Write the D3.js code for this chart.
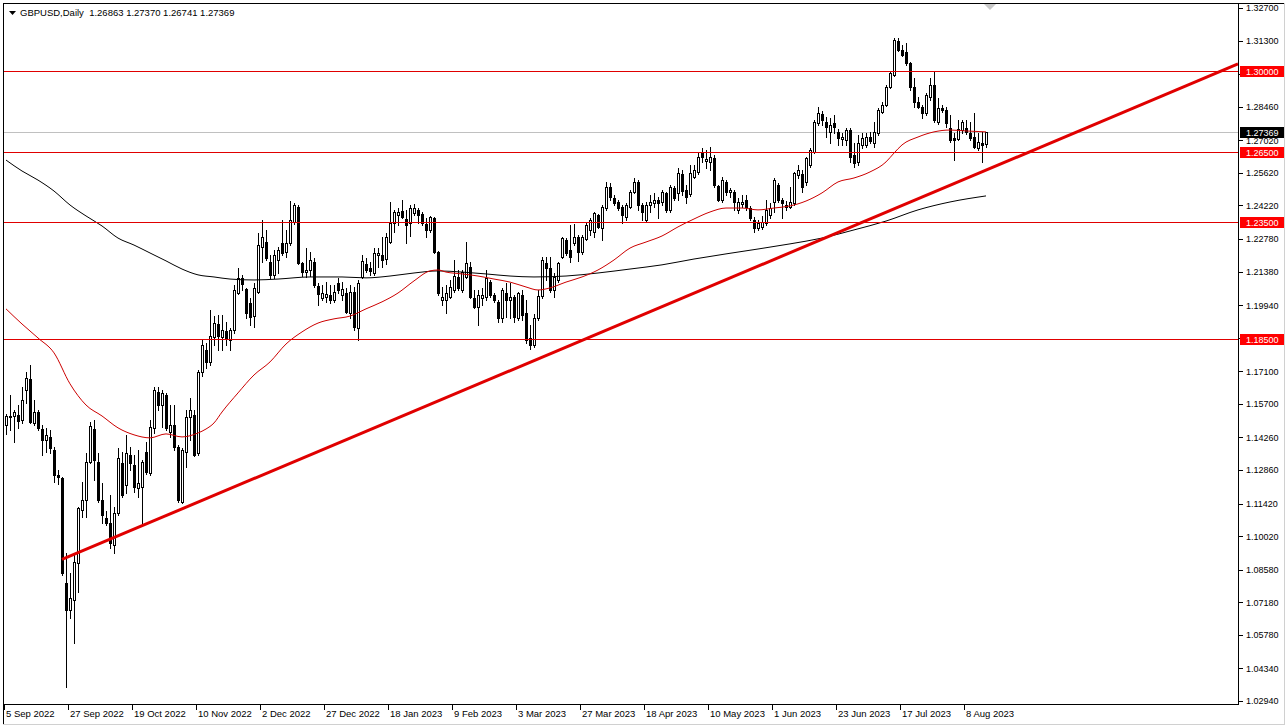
<!DOCTYPE html>
<html><head><meta charset="utf-8">
<script src="https://cdn.jsdelivr.net/npm/d3@7"></script>
<style>
body{margin:0;background:#fff}
svg{display:block}
text{font-family:"Liberation Sans",Arial,sans-serif;}
</style>
</head><body>
<svg id="c" width="1287" height="727"></svg>
<script>
// ---------------- DATA ----------------
const symbol = "GBPUSD,Daily";
const firstDay = "2022-09-05";
const closedDays = ["2022-12-26"];
const dateTickLabels = ["5 Sep 2022","27 Sep 2022","19 Oct 2022","10 Nov 2022","2 Dec 2022","27 Dec 2022","18 Jan 2023","9 Feb 2023","3 Mar 2023","27 Mar 2023","18 Apr 2023","10 May 2023","1 Jun 2023","23 Jun 2023","17 Jul 2023","8 Aug 2023"];
const priceTicks = [1.32700,1.31300,1.29880,1.28460,1.27020,1.25620,1.24220,1.22780,1.21380,1.19940,1.18540,1.17100,1.15700,1.14260,1.12860,1.11420,1.10020,1.08580,1.07180,1.05780,1.04340,1.02940];
const levels = [1.30000,1.26500,1.23500,1.18500];
const lastPrice = 1.27369;

const open = [
1.1479,1.1514,1.1518,1.1522,1.1501,1.1630,1.1677,1.1488,1.1535,1.1462,
1.1415,1.1428,1.1372,1.1265,1.1252,1.0801,1.0685,1.0728,1.0887,1.1115,
1.1157,1.1321,1.1462,1.1321,1.1157,1.1080,1.1059,1.0964,1.1102,1.1316,
1.1222,1.1351,1.1308,1.1209,1.1213,1.1364,1.1273,1.1467,1.1621,1.1565,
1.1608,1.1449,1.1479,1.1385,1.1149,1.1364,1.1514,1.1522,1.1360,1.1707,
1.1802,1.1750,1.1858,1.1913,1.1858,1.1883,1.1844,1.1887,1.2046,1.2111,
1.2063,1.2003,1.1948,1.2050,1.2245,1.2265,1.2179,1.2124,1.2188,1.2261,
1.2222,1.2261,1.2351,1.2416,1.2175,1.2137,1.2145,1.2179,1.2076,1.2024,
1.2029,1.2038,1.2016,1.2089,1.2038,1.2046,1.1960,1.2050,1.1896,1.2115,
1.2171,1.2154,1.2132,1.2209,1.2209,1.2192,1.2265,1.2347,1.2381,1.2398,
1.2364,1.2347,1.2390,1.2403,1.2385,1.2343,1.2317,1.2368,1.2222,1.2016,
1.2016,1.2029,1.2059,1.2115,1.2059,1.2115,1.2158,1.2024,1.1986,1.2024,
1.2029,1.2093,1.2038,1.2008,1.1939,1.2046,1.2016,1.2029,1.1939,1.2038,
1.1960,1.1853,1.1823,1.1939,1.2033,1.2175,1.2154,1.2059,1.2102,1.2201,
1.2274,1.2231,1.2261,1.2287,1.2222,1.2278,1.2317,1.2308,1.2381,1.2325,
1.2411,1.2501,1.2454,1.2437,1.2416,1.2373,1.2416,1.2480,1.2523,1.2424,
1.2360,1.2424,1.2433,1.2446,1.2437,1.2476,1.2403,1.2497,1.2476,1.2557,
1.2489,1.2471,1.2544,1.2566,1.2647,1.2613,1.2609,1.2626,1.2506,1.2446,
1.2523,1.2480,1.2480,1.2403,1.2428,1.2446,1.2411,1.2360,1.2325,1.2330,
1.2347,1.2381,1.2437,1.2510,1.2446,1.2416,1.2416,1.2433,1.2553,1.2557,
1.2523,1.2596,1.2652,1.2776,1.2815,1.2780,1.2737,1.2776,1.2737,1.2707,
1.2703,1.2746,1.2639,1.2609,1.2682,1.2682,1.2716,1.2690,1.2733,1.2823,
1.2853,1.2931,1.2982,1.3128,1.3090,1.3081,1.3034,1.2931,1.2866,1.2845,
1.2819,1.2888,1.2939,1.2781,1.2841,1.2832,1.2755,1.2712,1.2707,1.2746,
1.2755,1.2733,1.2716,1.2669,1.2690,1.26863];
const high = [
1.1527,1.1608,1.1544,1.1565,1.1643,1.1707,1.1737,1.1587,1.1544,1.1479,
1.1467,1.1458,1.1385,1.1286,1.1256,1.0930,1.0844,1.0930,1.1127,1.1235,
1.1360,1.1492,1.1501,1.1360,1.1230,1.1110,1.1179,1.1127,1.1381,1.1364,
1.1437,1.1385,1.1351,1.1372,1.1330,1.1407,1.1501,1.1643,1.1643,1.1630,
1.1617,1.1565,1.1565,1.1394,1.1381,1.1544,1.1596,1.1544,1.1716,1.1844,
1.1831,1.1973,1.1948,1.1952,1.1952,1.1922,1.1896,1.2081,1.2154,1.2124,
1.2068,1.2024,1.2089,1.2304,1.2360,1.2317,1.2209,1.2231,1.2244,1.2360,
1.2317,1.2441,1.2433,1.2424,1.2179,1.2240,1.2222,1.2197,1.2089,1.2081,
1.2093,1.2081,1.2081,1.2111,1.2093,1.2068,1.2081,1.2072,1.2102,1.2209,
1.2197,1.2179,1.2240,1.2240,1.2287,1.2304,1.2437,1.2403,1.2411,1.2446,
1.2403,1.2424,1.2428,1.2411,1.2394,1.2368,1.2377,1.2373,1.2227,1.2072,
1.2081,1.2102,1.2188,1.2145,1.2145,1.2265,1.2179,1.2059,1.2059,1.2068,
1.2145,1.2102,1.2046,1.2016,1.2068,1.2089,1.2089,1.2038,1.2050,1.2059,
1.2016,1.1909,1.1956,1.2059,1.2201,1.2201,1.2201,1.2132,1.2179,1.2287,
1.2283,1.2338,1.2343,1.2295,1.2295,1.2347,1.2368,1.2394,1.2385,1.2424,
1.2523,1.2519,1.2467,1.2446,1.2424,1.2433,1.2489,1.2540,1.2531,1.2433,
1.2437,1.2467,1.2476,1.2458,1.2489,1.2480,1.2510,1.2506,1.2583,1.2574,
1.2510,1.2596,1.2596,1.2652,1.2669,1.2660,1.2673,1.2639,1.2510,1.2544,
1.2531,1.2497,1.2489,1.2454,1.2467,1.2467,1.2420,1.2373,1.2360,1.2377,
1.2446,1.2433,1.2540,1.2519,1.2454,1.2441,1.2501,1.2566,1.2596,1.2574,
1.2630,1.2669,1.2789,1.2845,1.2828,1.2802,1.2798,1.2811,1.2750,1.2733,
1.2755,1.2755,1.2690,1.2725,1.2733,1.2733,1.2738,1.2781,1.2841,1.2866,
1.2939,1.2995,1.3141,1.3141,1.3111,1.3120,1.3038,1.2969,1.2888,1.2853,
1.2905,1.2969,1.2995,1.2883,1.2853,1.2845,1.2811,1.2733,1.2789,1.2789,
1.2789,1.2781,1.2819,1.2733,1.2738,1.27370];
const low = [
1.1441,1.1458,1.1407,1.1467,1.1488,1.1574,1.1488,1.1479,1.1458,1.1351,
1.1364,1.1360,1.1235,1.1226,1.0835,1.0355,1.0651,1.0543,1.0762,1.1084,
1.1084,1.1316,1.1243,1.1149,1.1059,1.1050,1.0951,1.0930,1.1093,1.1170,
1.1188,1.1286,1.1192,1.1170,1.1059,1.1269,1.1265,1.1445,1.1544,1.1471,
1.1458,1.1428,1.1372,1.1149,1.1144,1.1299,1.1415,1.1347,1.1351,1.1690,
1.1724,1.1737,1.1823,1.1802,1.1802,1.1823,1.1802,1.1875,1.2042,1.2059,
1.1939,1.1909,1.1900,1.2046,1.2179,1.2188,1.2111,1.2111,1.2132,1.2209,
1.2201,1.2253,1.2343,1.2171,1.2120,1.2116,1.2120,1.2072,1.1995,1.2016,
1.2008,1.2003,1.2008,1.2046,1.2016,1.1960,1.1939,1.1887,1.1844,1.2111,
1.2137,1.2124,1.2124,1.2158,1.2158,1.2171,1.2261,1.2308,1.2338,1.2368,
1.2261,1.2291,1.2381,1.2347,1.2338,1.2287,1.2308,1.2218,1.2038,1.1995,
1.1960,1.2024,1.2050,1.2059,1.2050,1.2111,1.2024,1.1982,1.1909,1.1995,
1.2016,1.2029,1.2008,1.1922,1.1922,1.1943,1.1939,1.1922,1.1930,1.1930,
1.1831,1.1806,1.1814,1.1930,1.2024,1.2102,1.2050,1.2029,1.2093,1.2197,
1.2209,1.2179,1.2253,1.2184,1.2214,1.2274,1.2295,1.2287,1.2325,1.2274,
1.2403,1.2446,1.2424,1.2403,1.2347,1.2360,1.2411,1.2476,1.2403,1.2360,
1.2351,1.2394,1.2416,1.2368,1.2424,1.2394,1.2394,1.2446,1.2446,1.2467,
1.2433,1.2463,1.2540,1.2557,1.2609,1.2583,1.2574,1.2501,1.2441,1.2437,
1.2467,1.2458,1.2403,1.2390,1.2416,1.2403,1.2360,1.2308,1.2317,1.2321,
1.2338,1.2368,1.2394,1.2437,1.2368,1.2403,1.2411,1.2424,1.2540,1.2480,
1.2510,1.2587,1.2647,1.2768,1.2768,1.2716,1.2690,1.2733,1.2682,1.2682,
1.2682,1.2609,1.2587,1.2596,1.2669,1.2673,1.2690,1.2673,1.2725,1.2819,
1.2849,1.2926,1.2978,1.3085,1.3064,1.3025,1.2918,1.2845,1.2841,1.2798,
1.2811,1.2875,1.2781,1.2772,1.2823,1.2759,1.2695,1.2617,1.2703,1.2733,
1.2729,1.2703,1.2669,1.2660,1.2609,1.26741];
const close = [
1.1518,1.1518,1.1535,1.1497,1.1587,1.1681,1.1492,1.1535,1.1467,1.1415,
1.1437,1.1381,1.1265,1.1256,1.0844,1.0685,1.0737,1.0891,1.1123,1.1157,
1.1321,1.1475,1.1329,1.1157,1.1093,1.1059,1.0973,1.1102,1.1338,1.1179,
1.1360,1.1316,1.1213,1.1230,1.1321,1.1278,1.1471,1.1630,1.1565,1.1617,
1.1467,1.1479,1.1385,1.1157,1.1372,1.1514,1.1544,1.1351,1.1707,1.1823,
1.1750,1.1862,1.1917,1.1862,1.1887,1.1853,1.1887,1.2059,1.2111,1.2085,
1.1960,1.1943,1.2068,1.2253,1.2287,1.2197,1.2124,1.2209,1.2231,1.2218,
1.2261,1.2360,1.2424,1.2175,1.2137,1.2145,1.2188,1.2081,1.2042,1.2046,
1.2042,1.2016,1.2050,1.2059,1.2063,1.1964,1.2050,1.1900,1.2089,1.2184,
1.2145,1.2141,1.2218,1.2218,1.2188,1.2287,1.2347,1.2394,1.2394,1.2373,
1.2338,1.2411,1.2411,1.2381,1.2347,1.2317,1.2373,1.2222,1.2046,1.2029,
1.2046,1.2072,1.2120,1.2068,1.2137,1.2175,1.2029,1.1986,1.2038,1.2038,
1.2111,1.2038,1.2016,1.1939,1.2059,1.2016,1.2029,1.1943,1.2046,1.1952,
1.1844,1.1823,1.1939,1.2033,1.2188,1.2154,1.2059,1.2115,1.2175,1.2283,
1.2218,1.2201,1.2287,1.2222,1.2287,1.2338,1.2360,1.2390,1.2330,1.2416,
1.2501,1.2458,1.2433,1.2411,1.2381,1.2424,1.2480,1.2523,1.2424,1.2394,
1.2424,1.2437,1.2446,1.2433,1.2480,1.2403,1.2501,1.2454,1.2562,1.2484,
1.2458,1.2562,1.2574,1.2630,1.2630,1.2622,1.2630,1.2510,1.2446,1.2531,
1.2480,1.2489,1.2437,1.2437,1.2437,1.2416,1.2368,1.2325,1.2347,1.2351,
1.2403,1.2411,1.2531,1.2446,1.2433,1.2424,1.2437,1.2562,1.2574,1.2501,
1.2626,1.2660,1.2780,1.2819,1.2789,1.2759,1.2768,1.2759,1.2712,1.2716,
1.2746,1.2630,1.2604,1.2690,1.2712,1.2716,1.2699,1.2738,1.2832,1.2853,
1.2931,1.2991,1.3133,1.3090,1.3068,1.3034,1.2931,1.2866,1.2845,1.2819,
1.2896,1.2939,1.2789,1.2841,1.2832,1.2776,1.2703,1.2703,1.2750,1.2780,
1.2738,1.2712,1.2673,1.2695,1.2682,1.27369];

// moving averages (bar number, value)
const maRedBars = [0,4,8,12,16,20,24,28,32,36,40,44,48,50,52,54,58,62,66,70,74,78,82,86,90,94,98,102,106,108,110,114,118,122,126,130,133,136,140,144,148,152,156,160,164,168,172,176,180,184,188,192,196,200,204,208,212,216,220,222,224,228,232,236,240,245];
const maRed = [1.1978,1.1913,1.1853,1.1789,1.1656,1.1565,1.1518,1.1467,1.1437,1.1424,1.1441,1.1428,1.1445,1.1462,1.1488,1.1535,1.1617,1.1694,1.1750,1.1827,1.1879,1.1917,1.1935,1.1947,1.1978,1.2008,1.2046,1.2098,1.2141,1.2145,1.2136,1.2128,1.2119,1.2106,1.2093,1.2072,1.2059,1.2068,1.2093,1.2115,1.2145,1.2188,1.2239,1.2265,1.2291,1.2330,1.2364,1.2394,1.2411,1.2411,1.2403,1.2411,1.2420,1.2441,1.2476,1.2523,1.2540,1.2566,1.2609,1.2647,1.2682,1.2716,1.2738,1.2746,1.2742,1.2738];
const maBlackBars = [0,4,8,12,16,20,24,28,32,36,40,44,48,52,56,62,68,76,84,90,96,102,108,114,120,126,132,140,148,156,164,172,180,188,196,204,212,220,228,236,245];
const maBlack = [1.2617,1.2570,1.2531,1.2484,1.2424,1.2377,1.2334,1.2282,1.2252,1.2218,1.2184,1.2149,1.2124,1.2115,1.2106,1.2102,1.2106,1.2115,1.2115,1.2111,1.2119,1.2132,1.2141,1.2136,1.2128,1.2119,1.2115,1.2119,1.2132,1.2149,1.2167,1.2192,1.2214,1.2235,1.2257,1.2282,1.2317,1.2355,1.2403,1.2437,1.2463];

// trend line anchors (bar number, price)
const trendBars = [14, 200];
const trendPrices = [1.0902, 1.2248];

// ---------------- LAYOUT ----------------
const L = 4, R = 1238, T = 4, B = 704;
const svg = d3.select("#c");
const N = close.length;

// trading calendar
const dayKey = d3.timeFormat("%Y-%m-%d");
const labelFmt = d3.timeFormat("%-d %b %Y");
const dates = [];
for (let d = d3.timeParse("%Y-%m-%d")(firstDay); dates.length < N; d = d3.timeDay.offset(d, 1)) {
  const wd = d.getDay();
  if (wd !== 0 && wd !== 6 && !closedDays.includes(dayKey(d))) dates.push(d);
}
const keys = dates.map(labelFmt);

const x = d3.scaleBand().domain(keys).range([L, L + 4 * N]).padding(0);
const xb = b => x(keys[0]) + x.step() * b + x.bandwidth() / 2;  // bar center (allows extrapolation)
const y = d3.scaleLinear().domain([1.0294, 1.3270]).range([701, 8]);

svg.append("defs").append("clipPath").attr("id", "clip")
  .append("rect").attr("x", L).attr("y", T).attr("width", R - L).attr("height", B - T);

// frame
svg.append("rect").attr("x", 0).attr("y", 0).attr("width", 1287).attr("height", 727).attr("fill", "#fff");
const frame = svg.append("g").attr("shape-rendering", "crispEdges");
frame.append("line").attr("x1", 3).attr("x2", 1285).attr("y1", 3.5).attr("y2", 3.5).attr("stroke", "#000");
frame.append("line").attr("x1", 3.5).attr("x2", 3.5).attr("y1", 3).attr("y2", 725).attr("stroke", "#000");
frame.append("line").attr("x1", 3).attr("x2", 1285).attr("y1", 724.5).attr("y2", 724.5).attr("stroke", "#d0d0d0");
frame.append("line").attr("x1", 1284.5).attr("x2", 1284.5).attr("y1", 3).attr("y2", 725).attr("stroke", "#d0d0d0");
frame.append("line").attr("x1", L).attr("x2", R + 1).attr("y1", B + 0.5).attr("y2", B + 0.5).attr("stroke", "#000");
frame.append("line").attr("x1", R + 0.5).attr("x2", R + 0.5).attr("y1", T).attr("y2", B + 1).attr("stroke", "#000");

const plot = svg.append("g").attr("clip-path", "url(#clip)");

// current price line
plot.append("line").attr("shape-rendering", "crispEdges")
  .attr("x1", L).attr("x2", R).attr("y1", Math.round(y(lastPrice)) + 0.5).attr("y2", Math.round(y(lastPrice)) + 0.5)
  .attr("stroke", "#c0c0c0");

// candles
const bars = d3.range(N).map(i => ({i, o: open[i], h: high[i], l: low[i], c: close[i]}));
const cg = plot.append("g").attr("shape-rendering", "crispEdges");
const cand = cg.selectAll("g").data(bars).join("g");
cand.append("line")
  .attr("x1", d => Math.round(xb(d.i)) + 0.5).attr("x2", d => Math.round(xb(d.i)) + 0.5)
  .attr("y1", d => Math.round(y(d.h))).attr("y2", d => Math.round(y(d.l)) + 1)
  .attr("stroke", "#000");
cand.each(function(d) {
  const g = d3.select(this);
  const cx = Math.round(xb(d.i));
  const yt = Math.round(y(Math.max(d.o, d.c))), ybm = Math.round(y(Math.min(d.o, d.c)));
  if (ybm - yt < 1) {
    g.append("line").attr("x1", cx - 1).attr("x2", cx + 2).attr("y1", yt + 0.5).attr("y2", yt + 0.5).attr("stroke", "#000");
  } else {
    g.append("rect").attr("x", cx - 0.5).attr("y", yt + 0.5).attr("width", 2).attr("height", ybm - yt)
      .attr("fill", d.c >= d.o ? "#fff" : "#000").attr("stroke", "#000");
  }
});

// moving averages
const maLine = d3.line().x(d => xb(d[0])).y(d => y(d[1])).curve(d3.curveMonotoneX);
plot.append("path").datum(maBlackBars.map((b, k) => [b, maBlack[k]]))
  .attr("d", maLine).attr("fill", "none").attr("stroke", "#000").attr("stroke-width", 1);
plot.append("path").datum(maRedBars.map((b, k) => [b, maRed[k]]))
  .attr("d", maLine).attr("fill", "none").attr("stroke", "#cc0000").attr("stroke-width", 1);

// horizontal levels
const lvlG = plot.append("g").attr("shape-rendering", "crispEdges");
levels.forEach(v => {
  const yy = Math.round(y(v)) + 0.5;
  lvlG.append("line").attr("x1", L).attr("x2", R).attr("y1", yy).attr("y2", yy)
    .attr("stroke", "#e00000").attr("stroke-width", 1);
});

// trend line (ray)
const slope = (trendPrices[1] - trendPrices[0]) / (trendBars[1] - trendBars[0]);
const bEnd = (R - xb(0)) / x.step();
plot.append("line")
  .attr("x1", xb(trendBars[0])).attr("y1", y(trendPrices[0]))
  .attr("x2", xb(bEnd)).attr("y2", y(trendPrices[0] + slope * (bEnd - trendBars[0])))
  .attr("stroke", "#e00000").attr("stroke-width", 3);

// right price axis
const yAxis = d3.axisRight(y).tickValues(priceTicks).tickFormat(d3.format(".5f")).tickSize(4).tickSizeOuter(0).tickPadding(3);
const ya = svg.append("g").attr("transform", `translate(${R + 1},0)`).call(yAxis);
ya.select(".domain").remove();
ya.selectAll("line").attr("stroke", "#000").attr("shape-rendering", "crispEdges");
ya.selectAll("text").attr("font-family", "Liberation Sans, Arial, sans-serif").attr("font-size", 9).attr("fill", "#000");

// level labels
const lab = svg.append("g");
levels.forEach(v => {
  const yy = Math.round(y(v));
  lab.append("rect").attr("x", R + 2).attr("y", yy - 5).attr("width", 44).attr("height", 11).attr("fill", "#ff0000");
  lab.append("text").attr("x", R + 8).attr("y", yy + 4).attr("font-size", 9).attr("fill", "#fff").text(d3.format(".5f")(v));
});
{
  const yy = Math.round(y(lastPrice));
  lab.append("rect").attr("x", R + 2).attr("y", yy - 5).attr("width", 44).attr("height", 11).attr("fill", "#000");
  lab.append("text").attr("x", R + 8).attr("y", yy + 4).attr("font-size", 9).attr("fill", "#fff").text(d3.format(".5f")(lastPrice));
}

// bottom date axis
const xAxis = d3.axisBottom(x).tickValues(dateTickLabels).tickSize(6).tickSizeOuter(0).tickPadding(0);
const xa = svg.append("g").attr("transform", `translate(${-x.bandwidth() / 2},${B})`).call(xAxis);
xa.select(".domain").remove();
xa.selectAll("line").attr("stroke", "#000").attr("shape-rendering", "crispEdges");
xa.selectAll("text").attr("text-anchor", "start").attr("x", 2)
  .attr("font-family", "Liberation Sans, Arial, sans-serif").attr("font-size", 9.5).attr("fill", "#000");

// title
const last = N - 1;
svg.append("path").attr("d", "M9,11L16,11L12.5,15Z").attr("fill", "#000");
svg.append("text").attr("x", 20).attr("y", 16).attr("font-size", 9.5).attr("fill", "#000")
  .style("white-space", "pre")
  .text(`${symbol}  ${open[last].toFixed(5)} ${high[last].toFixed(5)} ${low[last].toFixed(5)} ${close[last].toFixed(5)}`);

// chart shift marker
svg.append("path").attr("d", "M984,4L996,4L990,10Z").attr("fill", "#c8c8c8");
</script>
</body></html>
